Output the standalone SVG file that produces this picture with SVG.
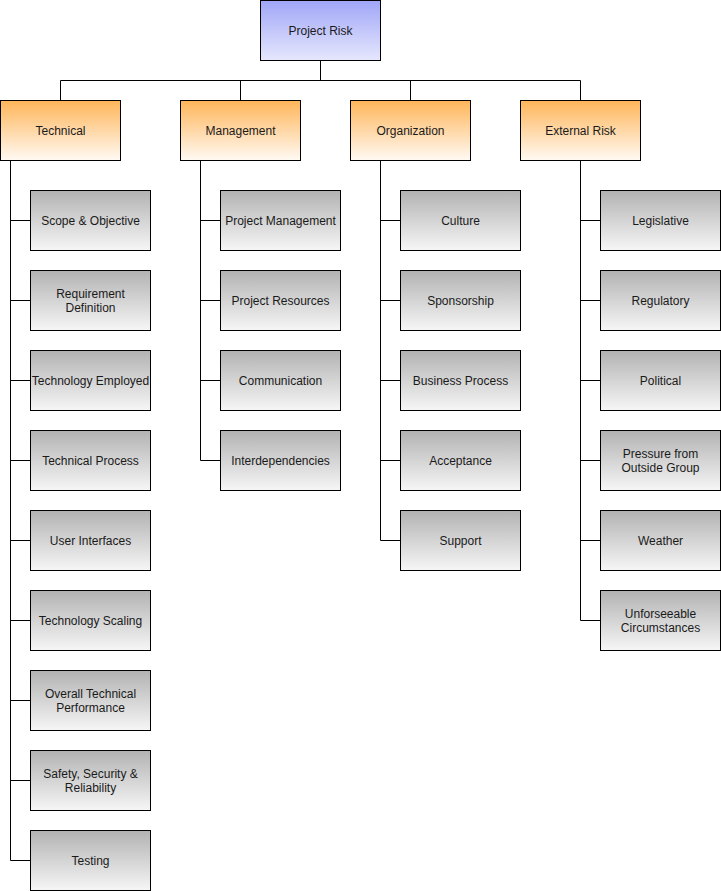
<svg xmlns="http://www.w3.org/2000/svg" width="721" height="891" viewBox="0 0 721 891">
<defs>
<linearGradient id="gBlue" x1="0" y1="0" x2="0" y2="1"><stop offset="0" stop-color="#a0a6f7"/><stop offset="1" stop-color="#e6e7fd"/></linearGradient>
<linearGradient id="gOrange" x1="0" y1="0" x2="0" y2="1"><stop offset="0" stop-color="#ffb559"/><stop offset="1" stop-color="#fffaf4"/></linearGradient>
<linearGradient id="gGray" x1="0" y1="0" x2="0" y2="1"><stop offset="0" stop-color="#b2b2b2"/><stop offset="1" stop-color="#f6f6f6"/></linearGradient>
<style>
.root,.cat,.leaf{stroke:#000;stroke-width:1}
.root{fill:url(#gBlue)}
.cat{fill:url(#gOrange)}
.leaf{fill:url(#gGray)}
text{font-family:"Liberation Sans",Arial,sans-serif;font-size:12px;fill:#1a1a1a;text-anchor:middle;dominant-baseline:central}
.conn path{fill:none;stroke:#000;stroke-width:1}
</style>
</defs>
<rect width="721" height="891" fill="#fff"/>
<g class="conn" id="connectors">
<path d="M320.5 60.5V80.5M60.5 100.5V80.5H580.5V100.5M240.5 80.5V100.5M410.5 80.5V100.5"/>
<path d="M10.5 160.5V860.5H30.5M10.5 220.5H30.5M10.5 300.5H30.5M10.5 380.5H30.5M10.5 460.5H30.5M10.5 540.5H30.5M10.5 620.5H30.5M10.5 700.5H30.5M10.5 780.5H30.5"/>
<path d="M200.5 160.5V460.5H220.5M200.5 220.5H220.5M200.5 300.5H220.5M200.5 380.5H220.5"/>
<path d="M380.5 160.5V540.5H400.5M380.5 220.5H400.5M380.5 300.5H400.5M380.5 380.5H400.5M380.5 460.5H400.5"/>
<path d="M580.5 160.5V620.5H600.5M580.5 220.5H600.5M580.5 300.5H600.5M580.5 380.5H600.5M580.5 460.5H600.5M580.5 540.5H600.5"/>
</g>
<g id="project-risk"><rect class="root" x="260.5" y="0.5" width="120" height="60"/><text x="320.5" y="30.5">Project Risk</text></g>
<g id="technical"><rect class="cat" x="0.5" y="100.5" width="120" height="60"/><text x="60.5" y="130.5">Technical</text></g>
<g id="management"><rect class="cat" x="180.5" y="100.5" width="120" height="60"/><text x="240.5" y="130.5">Management</text></g>
<g id="organization"><rect class="cat" x="350.5" y="100.5" width="120" height="60"/><text x="410.5" y="130.5">Organization</text></g>
<g id="external-risk"><rect class="cat" x="520.5" y="100.5" width="120" height="60"/><text x="580.5" y="130.5">External Risk</text></g>

<g id="scope"><rect class="leaf" x="30.5" y="190.5" width="120" height="60"/><text x="90.5" y="220.5">Scope &amp; Objective</text></g>
<g id="requirement"><rect class="leaf" x="30.5" y="270.5" width="120" height="60"/><text x="90.5" y="293.5">Requirement</text><text x="90.5" y="307.5">Definition</text></g>
<g id="tech-employed"><rect class="leaf" x="30.5" y="350.5" width="120" height="60"/><text x="90.5" y="380.5">Technology Employed</text></g>
<g id="tech-process"><rect class="leaf" x="30.5" y="430.5" width="120" height="60"/><text x="90.5" y="460.5">Technical Process</text></g>
<g id="user-interfaces"><rect class="leaf" x="30.5" y="510.5" width="120" height="60"/><text x="90.5" y="540.5">User Interfaces</text></g>
<g id="tech-scaling"><rect class="leaf" x="30.5" y="590.5" width="120" height="60"/><text x="90.5" y="620.5">Technology Scaling</text></g>
<g id="overall-perf"><rect class="leaf" x="30.5" y="670.5" width="120" height="60"/><text x="90.5" y="693.5">Overall Technical</text><text x="90.5" y="707.5">Performance</text></g>
<g id="safety"><rect class="leaf" x="30.5" y="750.5" width="120" height="60"/><text x="90.5" y="773.5">Safety, Security &amp;</text><text x="90.5" y="787.5">Reliability</text></g>
<g id="testing"><rect class="leaf" x="30.5" y="830.5" width="120" height="60"/><text x="90.5" y="860.5">Testing</text></g>

<g id="project-management"><rect class="leaf" x="220.5" y="190.5" width="120" height="60"/><text x="280.5" y="220.5">Project Management</text></g>
<g id="project-resources"><rect class="leaf" x="220.5" y="270.5" width="120" height="60"/><text x="280.5" y="300.5">Project Resources</text></g>
<g id="communication"><rect class="leaf" x="220.5" y="350.5" width="120" height="60"/><text x="280.5" y="380.5">Communication</text></g>
<g id="interdependencies"><rect class="leaf" x="220.5" y="430.5" width="120" height="60"/><text x="280.5" y="460.5">Interdependencies</text></g>

<g id="culture"><rect class="leaf" x="400.5" y="190.5" width="120" height="60"/><text x="460.5" y="220.5">Culture</text></g>
<g id="sponsorship"><rect class="leaf" x="400.5" y="270.5" width="120" height="60"/><text x="460.5" y="300.5">Sponsorship</text></g>
<g id="business-process"><rect class="leaf" x="400.5" y="350.5" width="120" height="60"/><text x="460.5" y="380.5">Business Process</text></g>
<g id="acceptance"><rect class="leaf" x="400.5" y="430.5" width="120" height="60"/><text x="460.5" y="460.5">Acceptance</text></g>
<g id="support"><rect class="leaf" x="400.5" y="510.5" width="120" height="60"/><text x="460.5" y="540.5">Support</text></g>

<g id="legislative"><rect class="leaf" x="600.5" y="190.5" width="120" height="60"/><text x="660.5" y="220.5">Legislative</text></g>
<g id="regulatory"><rect class="leaf" x="600.5" y="270.5" width="120" height="60"/><text x="660.5" y="300.5">Regulatory</text></g>
<g id="political"><rect class="leaf" x="600.5" y="350.5" width="120" height="60"/><text x="660.5" y="380.5">Political</text></g>
<g id="pressure"><rect class="leaf" x="600.5" y="430.5" width="120" height="60"/><text x="660.5" y="453.5">Pressure from</text><text x="660.5" y="467.5">Outside Group</text></g>
<g id="weather"><rect class="leaf" x="600.5" y="510.5" width="120" height="60"/><text x="660.5" y="540.5">Weather</text></g>
<g id="unforeseeable"><rect class="leaf" x="600.5" y="590.5" width="120" height="60"/><text x="660.5" y="613.5">Unforseeable</text><text x="660.5" y="627.5">Circumstances</text></g>
</svg>
